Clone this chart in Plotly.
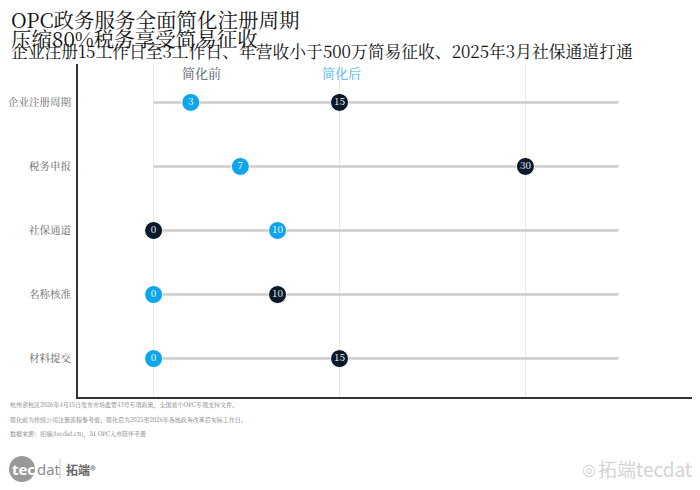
"""
OPC政务服务简化 哑铃图
"""

import plotly.graph_objects as go

# 数据
categories = ['企业注册周期', '税务申报', '社保通道', '名称核准', '材料提交']
before_vals = [15, 30, 0, 10, 15]   # 简化前（深色）
after_vals = [3, 7, 10, 0, 0]       # 简化后（蓝色）
track_start = 0
track_end = 37.5
grid_ticks = [0, 15, 30]

notes = [
    '杭州余杭区2026年4月15日发布市场监管43号专项政策，全国首个OPC专项支持文件。',
    '简化前为传统公司注册流程参考值；简化后为2025至2026年各地政务改革后实际工作日。',
    '数据来源：拓端(tecdat.cn)，AI OPC入市陪伴手册',
]

color_dark = '#0b1a2a'
color_blue = '#0ea5ec'
font_main = 'Noto Serif CJK SC, Liberation Serif, serif'

# 页面偏移（body默认边距）
OX, OY = 8, 7
# 绘图区（页面像素）
L, R, T, B = 78 - OX, 694 - OX, 63 - OY, 396 - OY
PW, PH = R - L, B - T


def px(x):
    return (x - OX - L) / PW


def py(y):
    return (B - (y - OY)) / PH


fig = go.Figure()

# 灰色底线
track_x, track_y = [], []
for c in categories:
    track_x += [track_start, track_end, None]
    track_y += [c, c, None]
fig.add_trace(go.Scatter(
    x=track_x, y=track_y, mode='lines',
    line=dict(color='#cccccc', width=2.5),
    hoverinfo='skip', showlegend=False
))

for vals, color, name in [(before_vals, color_dark, '简化前'), (after_vals, color_blue, '简化后')]:
    fig.add_trace(go.Scatter(
        x=vals, y=categories, mode='markers+text', name=name,
        marker=dict(size=18, color=color, line=dict(color='white', width=1)),
        text=[str(v) for v in vals], textposition='middle center',
        textfont=dict(color='white', size=10, family=font_main),
        showlegend=False
    ))

annotations = []
for text, ypx, size in [
    ('OPC政务服务全面简化注册周期', 18, 20.5),
    ('压缩80%税务享受简易征收', 37, 20.5),
    ('企业注册15工作日至3工作日、年营收小于500万简易征收、2025年3月社保通道打通', 50, 16.8),
]:
    annotations.append(dict(
        text=text, xref='paper', yref='paper', x=px(OX + 1), y=py(ypx),
        xanchor='left', yanchor='middle', showarrow=False,
        font=dict(size=size, color='#111111', family=font_main)
    ))

# 图例文字
for label, xpx, color in [('简化前', 201, '#4a5868'), ('简化后', 341, '#3fb4ee')]:
    annotations.append(dict(
        text=label, xref='paper', yref='paper', x=px(xpx), y=py(72),
        xanchor='center', yanchor='middle', showarrow=False,
        font=dict(size=13, color=color, family=font_main)
    ))

# 脚注
for i, n in enumerate(notes):
    annotations.append(dict(
        text=n, xref='paper', yref='paper', x=px(OX), y=py(404 + 14 * i),
        xanchor='left', yanchor='middle', showarrow=False,
        font=dict(size=6, color='#777777', family=font_main)
    ))

# 标志
annotations += [
    dict(text='<b>tec</b>', xref='paper', yref='paper', x=px(10), y=py(468),
         xanchor='left', yanchor='middle', showarrow=False,
         font=dict(size=15, color='white', family='Open Sans')),
    dict(text='dat', xref='paper', yref='paper', x=px(35), y=py(468),
         xanchor='left', yanchor='middle', showarrow=False,
         font=dict(size=15, color='#888888', family='Open Sans')),
    dict(text='<b>拓端</b>®', xref='paper', yref='paper', x=px(64), y=py(468),
         xanchor='left', yanchor='middle', showarrow=False,
         font=dict(size=12, color='#666666', family='Noto Sans CJK SC')),
    dict(text='拓端tecdat', xref='paper', yref='paper', x=px(694), y=py(467),
         xanchor='right', yanchor='middle', showarrow=False,
         font=dict(size=19, color='#d4d4d4', family='Noto Sans CJK SC')),
    dict(text='◎', xref='paper', yref='paper', x=px(598), y=py(468),
         xanchor='right', yanchor='middle', showarrow=False,
         font=dict(size=16, color='#d4d4d4', family='DejaVu Sans')),
]

shapes = [
    dict(type='circle', xref='paper', yref='paper',
         x0=px(9), x1=px(35), y0=py(481), y1=py(455),
         fillcolor='#999999', line=dict(width=0), layer='below'),
    dict(type='line', xref='paper', yref='paper',
         x0=px(60), x1=px(60), y0=py(478), y1=py(458),
         line=dict(color='#cccccc', width=1)),
]

fig.update_layout(
    width=700, height=490,
    margin=dict(l=L, r=700 - R, t=T, b=490 - B, autoexpand=False),
    plot_bgcolor='white', paper_bgcolor='white',
    annotations=annotations, shapes=shapes,
    font=dict(family=font_main),
    xaxis=dict(
        range=[-6.1, 43.6], tickvals=grid_ticks, showticklabels=False,
        showgrid=True, gridcolor='#ebebeb', gridwidth=1, zeroline=False,
        showline=True, linecolor='#333333', linewidth=2, ticks='',
        automargin=False
    ),
    yaxis=dict(
        categoryorder='array', categoryarray=categories, range=[4.6, -0.6],
        showgrid=False, zeroline=False, showline=True, linecolor='#333333',
        linewidth=2, ticks='', ticklabelstandoff=3, automargin=False,
        tickfont=dict(size=10.5, color='#666666', family=font_main)
    ),
)

fig.write_html("out.html")
